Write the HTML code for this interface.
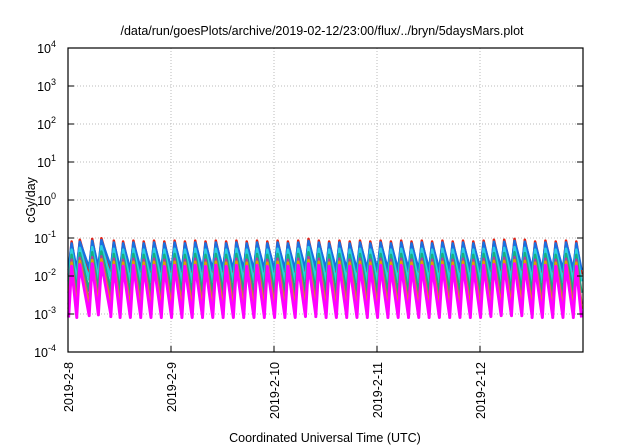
<!DOCTYPE html>
<html><head><meta charset="utf-8"><style>
body{margin:0;background:#fff}
svg{display:block;font-family:"Liberation Sans",sans-serif}
</style></head><body>
<svg id="c" width="640" height="448">
<text x="322" y="35" font-size="12.5" text-anchor="middle">/data/run/goesPlots/archive/2019-02-12/23:00/flux/../bryn/5daysMars.plot</text>
<text x="325" y="442" font-size="12.5" text-anchor="middle">Coordinated Universal Time (UTC)</text>
<text transform="translate(35,200) rotate(-90)" font-size="12.5" text-anchor="middle">cGy/day</text>
<g id="grid"></g><g id="series"></g><g id="axes"></g>
</svg>
<script>
const xTickLabels=["2019-2-8","2019-2-9","2019-2-10","2019-2-11","2019-2-12"];
const yTickExps=[-4,-3,-2,-1,0,1,2,3,4];
const seriesNames=["red","blue","cyan","teal","purple","orange","magenta"];
const seriesColors=["#e51e10","#1a6fe0","#2ad0e0","#16b080","#b040a0","#e0a000","#ff00ff"];
const seriesPeak=[0.09,0.08,0.055,0.04,0.03,0.025,0.02];
const seriesTrough=[0.012,0.016,0.008,0.004,0.002,0.0015,0.0009];
const cycleStarts=[0.02,0.1,0.22,0.31,0.43,0.52,0.62,0.72,0.82,0.92,1.02,1.12,1.22,1.32,1.42,1.52,1.62,1.72,1.82,1.92,2.02,2.12,2.22,2.32,2.42,2.52,2.62,2.72,2.82,2.92,3.02,3.12,3.22,3.32,3.42,3.52,3.62,3.72,3.82,3.92,4.02,4.12,4.22,4.32,4.42,4.52,4.62,4.72,4.82,4.92];
const cycleFactor=[0.9,1.0,1.05,1.1,0.95,0.9,0.95,0.9,0.95,0.9,0.95,0.9,0.95,0.9,0.95,0.9,0.95,0.9,0.95,0.9,0.95,0.9,0.95,1.05,0.95,0.9,0.95,0.9,0.95,0.9,0.95,0.9,0.95,0.9,0.95,0.9,0.95,0.9,0.95,0.9,0.95,1.0,1.0,1.05,1.0,0.9,0.95,0.9,0.95,0.9];
const X0=68,X1=583,Y0=48,Y1=352,NS="http://www.w3.org/2000/svg";
const xs=d=>X0+(X1-X0)*d/5;
const ys=v=>Y1-(Y1-Y0)*(Math.log10(v)+4)/8;
function mk(t,a,p){const e=document.createElementNS(NS,t);for(const k in a)e.setAttribute(k,a[k]);p.appendChild(e);return e;}
const grid=document.getElementById('grid'),axes=document.getElementById('axes'),ser=document.getElementById('series');
yTickExps.forEach(p=>{const y=ys(Math.pow(10,p));
 if(p>-4&&p<4){const g=mk('line',{x1:X0,x2:X1,y1:y,y2:y,stroke:'#bbb','stroke-dasharray':'1,2','stroke-width':1},grid);
 
 }
 const t=mk('line',{x1:X0,x2:X0+6,y1:y,y2:y,stroke:'#000'},axes);
 
 
 const t2=mk('line',{x1:X1,x2:X1-6,y1:y,y2:y,stroke:'#000'},axes);
 
 
 const tx=mk('text',{x:X0-12,y:y+5,'font-size':12.5,'text-anchor':'end'},axes);
 
 
 tx.innerHTML='10<tspan dy="-6" font-size="9">'+p+'</tspan>';});
xTickLabels.forEach((l,i)=>{const x=xs(i);
 if(i>0){const g=mk('line',{x1:x,x2:x,y1:Y0,y2:Y1,stroke:'#bbb','stroke-dasharray':'1,2'},grid);
 
 }
 const t=mk('line',{x1:x,x2:x,y1:Y1,y2:Y1-6,stroke:'#000'},axes);
 
 
 const tx=mk('text',{transform:`translate(${x+5},${Y1+10}) rotate(-90)`,'font-size':12.5,'text-anchor':'end'},axes);
 
 
 tx.textContent=l;});
const fr=mk('rect',{x:X0,y:Y0,width:X1-X0,height:Y1-Y0,fill:'none',stroke:'#000','stroke-width':1.2},axes);


seriesNames.forEach((n,s)=>{let d='';
 cycleStarts.forEach((c,i)=>{const end=i+1<cycleStarts.length?cycleStarts[i+1]:5;
  const pk=seriesPeak[s]*cycleFactor[i],tr=seriesTrough[s]*cycleFactor[i];
  const x0=Math.max(xs(c)-1.5,X0),xp=xs(c)+1.5,x1=Math.min(xs(end)-1.5,X1);
  d+=(i?'L':'M')+x0.toFixed(1)+','+ys(tr).toFixed(1)+'L'+xp.toFixed(1)+','+ys(pk).toFixed(1)+'L'+x1.toFixed(1)+','+ys(tr).toFixed(1);});
 const p=mk('path',{d:d,fill:'none',stroke:seriesColors[s],'stroke-width':s==6?3:2.5,'stroke-linejoin':'round'},ser);
 
 });
</script>
</body></html>
